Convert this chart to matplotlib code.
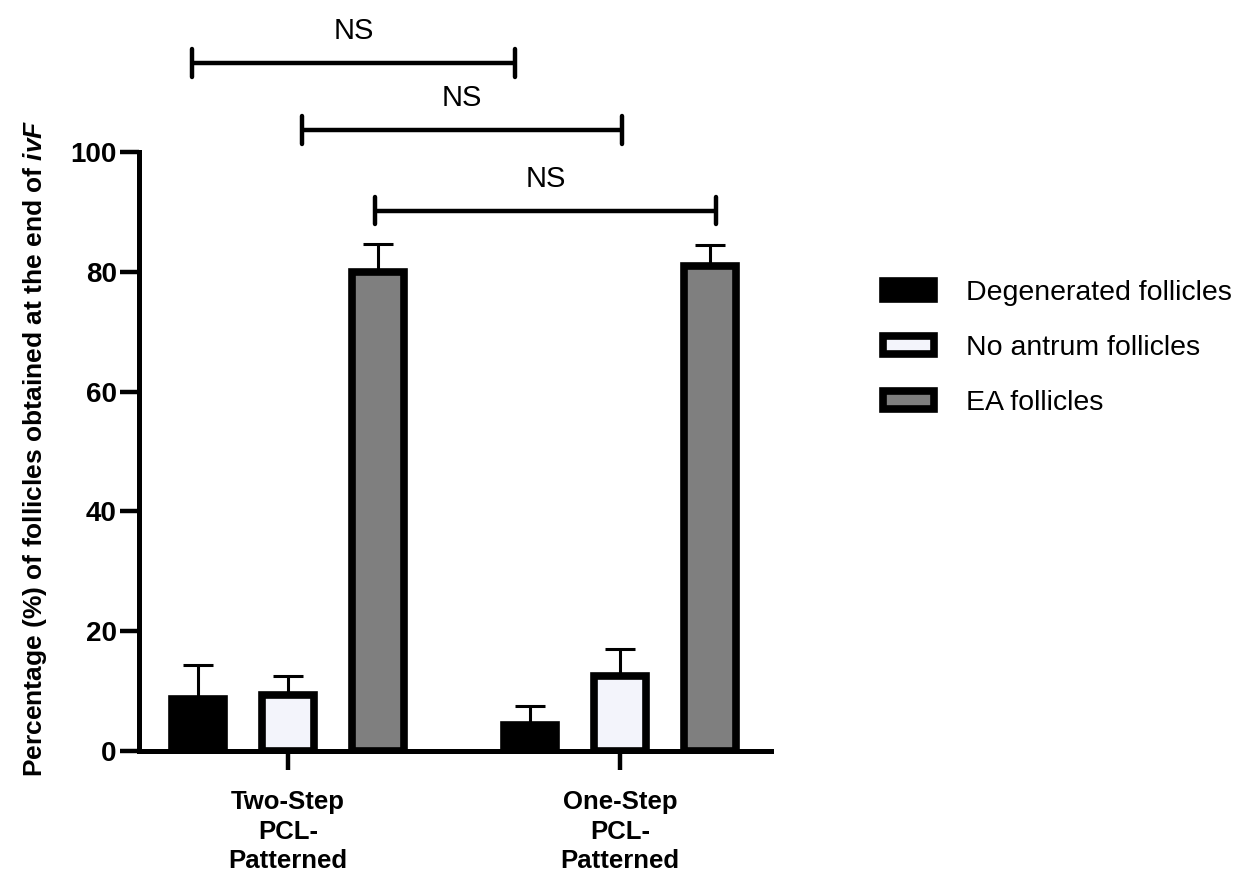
import matplotlib
matplotlib.use("Agg")
import matplotlib.pyplot as plt
import numpy as np

plt.rcParams["font.family"] = ["Liberation Sans", "DejaVu Sans"]
plt.rcParams["mathtext.fontset"] = "custom"
plt.rcParams["mathtext.rm"] = "Liberation Sans:bold"
plt.rcParams["mathtext.it"] = "Liberation Sans:bold:italic"

# data
groups = ["Two-Step\nPCL-\nPatterned", "One-Step\nPCL-\nPatterned"]
series = ["Degenerated follicles", "No antrum follicles", "EA follicles"]
degenerated = [8.6, 4.3]
degenerated_err = [5.8, 3.2]
no_antrum = [9.3, 12.6]
no_antrum_err = [3.2, 4.4]
ea = [80.0, 81.0]
ea_err = [4.6, 3.5]
colors = ["#000000", "#F3F4FB", "#7F7F7F"]

# significance brackets: (x start, x end, height)
brackets = [(-0.289, 0.684, 114.9), (0.042, 1.006, 103.7), (0.262, 1.289, 90.2)]
bracket_text = ["NS", "NS", "NS"]

fig = plt.figure(figsize=(12.35, 8.77), dpi=100)
ax = fig.add_axes([139 / 1235, 1 - 751 / 877, (771 - 139) / 1235, (751 - 152) / 877])

x = np.arange(len(groups))
offset = 0.271
width = 0.158
vals = [degenerated, no_antrum, ea]
errs = [degenerated_err, no_antrum_err, ea_err]
for i, (v, e, c, name) in enumerate(zip(vals, errs, colors, series)):
    xs = x + (i - 1) * offset
    ax.errorbar(xs, v, yerr=[np.zeros(len(e)), e], fmt="none", ecolor="black",
                elinewidth=2.2, capsize=11, capthick=2.2, zorder=1)
    ax.bar(xs, v, width=width, color=c, edgecolor="black", linewidth=5.5,
           label=name, zorder=2)

for (x0, x1, h), t in zip(brackets, bracket_text):
    ax.plot([x0, x1], [h, h], color="black", lw=3.2, clip_on=False,
            solid_capstyle="butt")
    for xe in (x0, x1):
        ax.plot([xe, xe], [h - 2.3, h + 2.3], color="black", lw=3.2,
                clip_on=False, solid_capstyle="round")
    ax.text((x0 + x1) / 2, h + 3.0, t, ha="center", va="bottom", fontsize=21)

ax.set_xlim(-0.449, 1.455)
ax.set_ylim(0, 100)
ax.set_yticks([0, 20, 40, 60, 80, 100])
ax.set_xticks(x)
ax.set_xticklabels(groups, fontsize=18.5, fontweight="bold", linespacing=1.3)
for lab in ax.get_yticklabels():
    lab.set_fontsize(20)
    lab.set_fontweight("bold")
ax.tick_params(axis="y", length=14, width=3.2, pad=2)
ax.tick_params(axis="x", length=14, width=3.2, pad=14)

ax.set_ylabel(r"Percentage (%) of follicles obtained at the end of $ivF$",
              fontsize=19, fontweight="bold")
ax.yaxis.set_label_coords(-0.143, 0.505)

for s in ["top", "right"]:
    ax.spines[s].set_visible(False)
for s in ["left", "bottom"]:
    ax.spines[s].set_linewidth(3.6)

fig.legend(loc="upper left", bbox_to_anchor=(883 / 1235, 1 - 280 / 877),
           frameon=False, fontsize=20.5, borderpad=0, borderaxespad=0,
           handlelength=1.8, handleheight=0.6, handletextpad=1.1,
           labelspacing=1.02)

fig.savefig("out.png", dpi=100)
